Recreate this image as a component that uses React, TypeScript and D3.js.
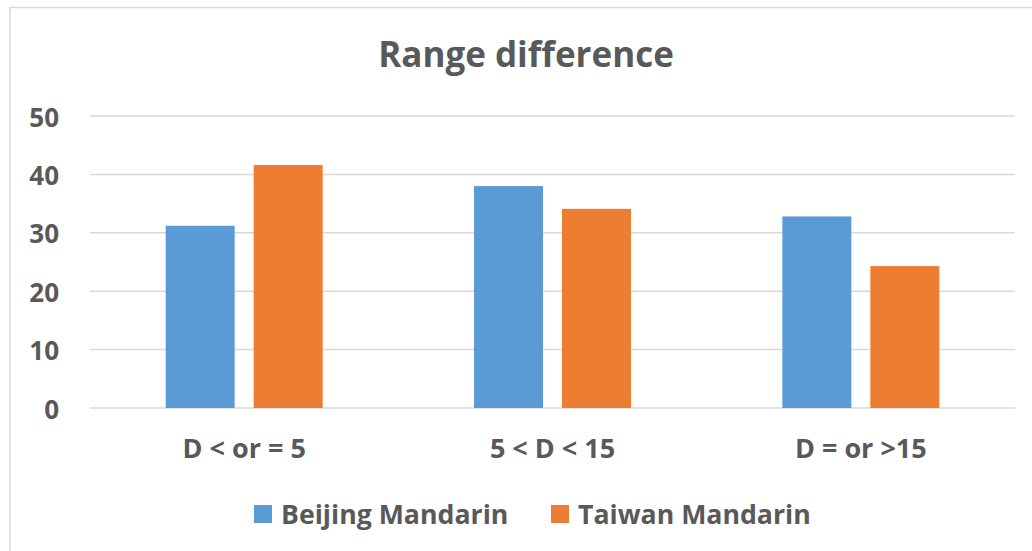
import React from "react";
import * as d3 from "d3";

const categories = ["D < or = 5", "5 < D < 15", "D = or >15"];
const seriesNames = ["Beijing Mandarin", "Taiwan Mandarin"];
const beijing = [31.2, 38.0, 32.8];
const taiwan = [41.6, 34.1, 24.3];
const yTicks = [0, 10, 20, 30, 40, 50];
const colors = ["#5B9BD5", "#ED7D31"];

const W = 1032;
const H = 551;
const FONT = "'Open Sans', sans-serif";
const TXT = "#595959";

export default function App() {
  const values = [beijing, taiwan];
  const y = d3.scaleLinear().domain([0, 50]).range([408, 116]);
  const x0 = d3.scaleBand<string>().domain(categories).range([90, 1015]).padding(0);
  const groupW = 157;
  const x1 = d3.scaleBand<string>().domain(seriesNames).range([0, groupW]).paddingInner(19 / 88).paddingOuter(0);

  return (
    <svg width={W} height={H} style={{ position: "absolute", left: 0, top: 0 }}>
      <rect x={0} y={0} width={W} height={H} fill="#fff" />
      <rect x={10} y={7.5} width={1040} height={560} fill="none" stroke="#D9D9D9" strokeWidth={1.5} />
      <text x={526} y={67} textAnchor="middle" fontFamily={FONT} fontWeight={700} fontSize={35} fill={TXT}>
        Range difference
      </text>
      {yTicks.map((t) => (
        <g key={t}>
          <line x1={90} x2={1015} y1={y(t)} y2={y(t)} stroke="#D9D9D9" strokeWidth={1.5} />
          <text x={59} y={y(t) + 10.5} textAnchor="end" fontFamily={FONT} fontWeight={700} fontSize={26} fill={TXT}>
            {t}
          </text>
        </g>
      ))}
      {categories.map((c, ci) => {
        const gx = (x0(c) as number) + (x0.bandwidth() - groupW) / 2;
        return (
          <g key={c}>
            {seriesNames.map((s, si) => (
              <rect
                key={s}
                x={gx + (x1(s) as number)}
                y={y(values[si][ci])}
                width={x1.bandwidth()}
                height={y(0) - y(values[si][ci])}
                fill={colors[si]}
              />
            ))}
            <text x={(x0(c) as number) + x0.bandwidth() / 2} y={458} textAnchor="middle" fontFamily={FONT} fontWeight={700} fontSize={27} fill={TXT}>
              {c}
            </text>
          </g>
        );
      })}
      {seriesNames.map((s, si) => {
        const lx = si === 0 ? 254 : 551;
        return (
          <g key={s}>
            <rect x={lx} y={505} width={18} height={18} fill={colors[si]} />
            <text x={lx + 27} y={524} fontFamily={FONT} fontWeight={700} fontSize={26.7} fill={TXT}>
              {s}
            </text>
          </g>
        );
      })}
    </svg>
  );
}
